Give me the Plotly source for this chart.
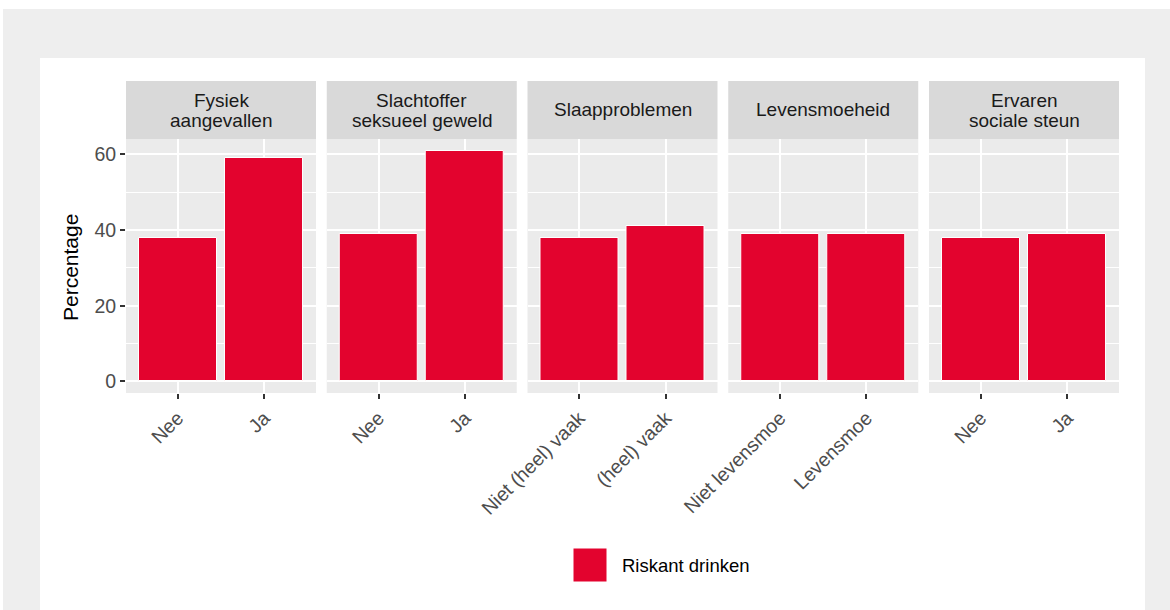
import plotly.graph_objects as go

# ---------------- data ----------------
strip_fysiek = ["Fysiek", "aangevallen"]
strip_slachtoffer = ["Slachtoffer", "seksueel geweld"]
strip_slaap = ["Slaapproblemen"]
strip_levensmoe = ["Levensmoeheid"]
strip_steun = ["Ervaren", "sociale steun"]

cats_fysiek = ["Nee", "Ja"]
cats_slachtoffer = ["Nee", "Ja"]
cats_slaap = ["Niet (heel) vaak", "(heel) vaak"]
cats_levensmoe = ["Niet levensmoe", "Levensmoe"]
cats_steun = ["Nee", "Ja"]

vals_fysiek = [38, 59]
vals_slachtoffer = [39, 61]
vals_slaap = [38, 41]
vals_levensmoe = [39, 39]
vals_steun = [38, 39]

y_ticks = [0, 20, 40, 60]
y_minor = [10, 30, 50]
series_name = "Riskant drinken"
y_title = "Percentage"

# ---------------- styling ----------------
W, H = 1170, 610
RED = "#e3032e"
PANEL_BG = "#ebebeb"
STRIP_BG = "#d9d9d9"
OUTER_BG = "#eeeeee"
FONT = "Liberation Sans, Arial, Helvetica, sans-serif"
TICK_SIZE = 19.5
STRIP_SIZE = 19
LEGEND_SIZE = 18.5
TITLE_SIZE = 21


def fx(p):
    return p / W


def fy(p):
    return 1 - p / H


panels = [
    (strip_fysiek, cats_fysiek, vals_fysiek),
    (strip_slachtoffer, cats_slachtoffer, vals_slachtoffer),
    (strip_slaap, cats_slaap, vals_slaap),
    (strip_levensmoe, cats_levensmoe, vals_levensmoe),
    (strip_steun, cats_steun, vals_steun),
]

panel_w = 190
gap = 10.75
first_left = 126
panel_top, panel_bottom = 139, 393
strip_top = 81

fig = go.Figure()
layout = dict(
    width=W,
    height=H,
    margin=dict(l=0, r=0, t=0, b=0),
    paper_bgcolor="white",
    plot_bgcolor=PANEL_BG,
    font=dict(family=FONT, size=18, color="#4d4d4d"),
    showlegend=False,
    bargap=0,
)

shapes = [
    dict(type="rect", xref="paper", yref="paper", x0=fx(3), x1=fx(1175), y0=fy(615), y1=fy(9),
         fillcolor=OUTER_BG, line=dict(width=0), layer="below"),
    dict(type="rect", xref="paper", yref="paper", x0=fx(40), x1=fx(1145), y0=fy(615), y1=fy(58),
         fillcolor="white", line=dict(width=0), layer="below"),
]
annotations = []

for i, (strip, cats, vals) in enumerate(panels):
    sfx = "" if i == 0 else str(i + 1)
    left = first_left + i * (panel_w + gap)
    right = left + panel_w
    fig.add_trace(go.Bar(
        x=cats, y=vals, xaxis="x" + sfx, yaxis="y" + sfx,
        width=0.9, name=series_name,
        marker=dict(color=RED, line=dict(color="white", width=1)),
        showlegend=False,
    ))
    layout["xaxis" + sfx] = dict(
        domain=[fx(left), fx(right)], anchor="y" + sfx, type="category",
        categoryorder="array", categoryarray=cats,
        range=[-0.6, 1.6], showgrid=True, gridcolor="white", gridwidth=1.7,
        zeroline=False, showline=False,
        ticks="outside", ticklen=5, tickwidth=1.5, tickcolor="#333333",
        tickangle=-45, tickfont=dict(size=TICK_SIZE, color="#4d4d4d", family=FONT),
        automargin=False, fixedrange=True,
    )
    layout["yaxis" + sfx] = dict(
        domain=[fy(panel_bottom), fy(panel_top)], anchor="x" + sfx,
        range=[-3.05, 64.05], tickvals=y_ticks, showgrid=True, gridcolor="white",
        gridwidth=2, zeroline=False, showline=False,
        minor=dict(tickvals=y_minor, showgrid=True, gridcolor="white", gridwidth=1, ticks=""),
        showticklabels=(i == 0), ticks="outside" if i == 0 else "",
        ticklen=5, tickwidth=1.5, tickcolor="#333333",
        tickfont=dict(size=TICK_SIZE, color="#4d4d4d", family=FONT),
        automargin=False, fixedrange=True,
    )
    # panel background (axis-domain shape sits under the grid)
    shapes.append(dict(type="rect", xref="x" + sfx + " domain", yref="y" + sfx + " domain",
                       x0=0, x1=1, y0=0, y1=1, fillcolor=PANEL_BG, line=dict(width=0),
                       layer="below"))
    # strip header
    shapes.append(dict(type="rect", xref="paper", yref="paper",
                       x0=fx(left), x1=fx(right), y0=fy(panel_top), y1=fy(strip_top),
                       fillcolor=STRIP_BG, line=dict(width=0)))
    cx = fx((left + right) / 2)
    if len(strip) == 1:
        line_y = [110]
    else:
        line_y = [100.5, 120.5]
    for txt, ly in zip(strip, line_y):
        annotations.append(dict(text=txt, x=cx, y=fy(ly), xref="paper", yref="paper",
                                showarrow=False, xanchor="center", yanchor="middle",
                                font=dict(size=STRIP_SIZE, color="#1a1a1a", family=FONT)))

# y-axis title
annotations.append(dict(text=y_title, x=fx(70), y=fy(268), xref="paper", yref="paper",
                        showarrow=False, textangle=-90, xanchor="center", yanchor="middle",
                        font=dict(size=TITLE_SIZE, color="black", family=FONT)))

# legend key + label
shapes.append(dict(type="rect", xref="paper", yref="paper",
                   x0=fx(573), x1=fx(607), y0=fy(582), y1=fy(548),
                   fillcolor=RED, line=dict(color="white", width=1)))
annotations.append(dict(text=series_name, x=fx(620), y=fy(565), xref="paper", yref="paper",
                        showarrow=False, xanchor="left", yanchor="middle",
                        font=dict(size=LEGEND_SIZE, color="black", family=FONT)))

layout["shapes"] = shapes
layout["annotations"] = annotations
fig.update_layout(**layout)

fig.write_html("out.html", config={"displayModeBar": False},
               post_script="document.body.style.margin='0';")
